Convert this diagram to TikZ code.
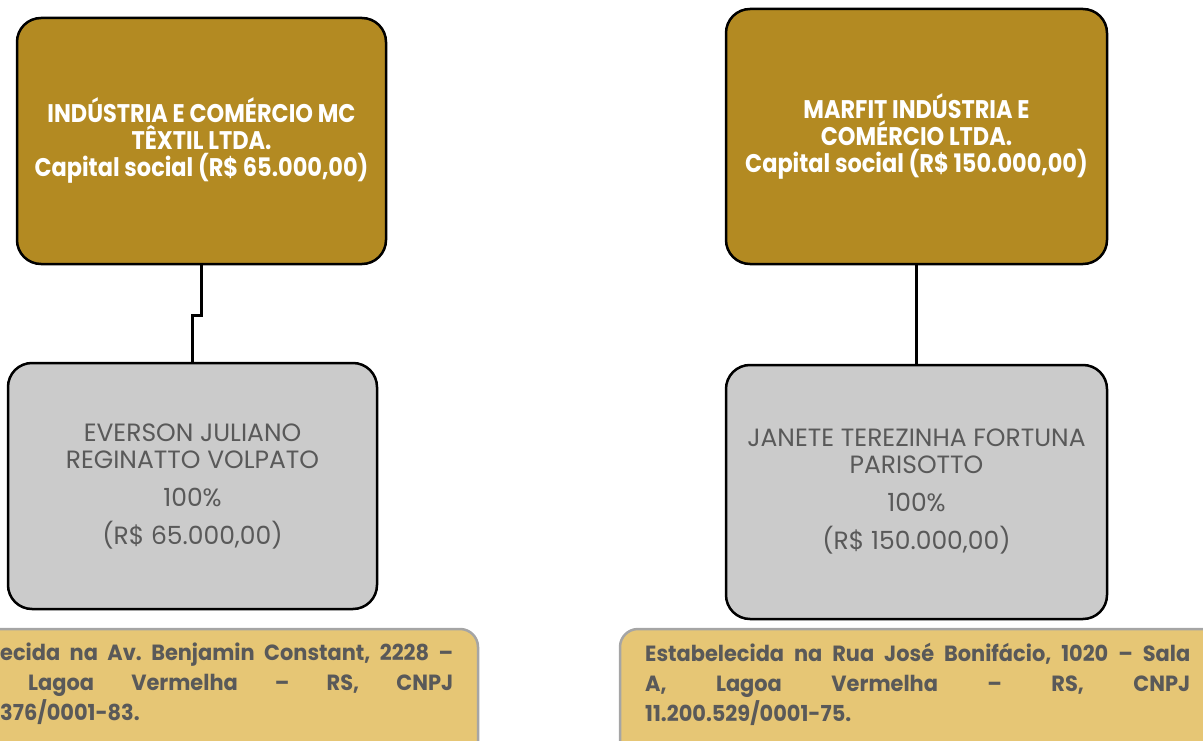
\documentclass[tikz,border=0pt]{standalone}
\usepackage{fontspec}
\setmainfont{Poppins}[FakeStretch=0.88]
\newfontfamily\grayfont{Poppins}
\newfontfamily\tanfont{Poppins}[FakeStretch=0.95]
\definecolor{gold}{HTML}{B38A22}
\definecolor{lgray}{HTML}{CBCBCB}
\definecolor{tan}{HTML}{E6C675}
\definecolor{txt}{HTML}{595959}
\definecolor{tanedge}{HTML}{A5A5A5}
\frenchspacing
\tikzset{
  goldbox/.style={draw=black, line width=2.5pt, fill=gold, rounded corners=24pt, align=center, text=white, font=\bfseries\fontsize{25.5}{27}\selectfont, inner sep=0pt},
  graybox/.style={draw=black, line width=2.5pt, fill=lgray, rounded corners=24pt, align=center, text=txt, font=\grayfont\fontsize{25}{27}\selectfont, inner sep=0pt},
  tanbox/.style={draw=tanedge, line width=2.5pt, fill=tan, rounded corners=18pt, inner sep=0pt},
  tantext/.style={text=txt, font=\tanfont\bfseries\fontsize{22}{30}\selectfont, inner sep=0pt, anchor=north west, align=left},
  link/.style={draw=black, line width=3.2pt}
}
\begin{document}
\begin{tikzpicture}[x=1pt,y=1pt]
\useasboundingbox (0,0) rectangle (1203,-741);
\clip (0,0) rectangle (1203,-741);
\node[goldbox, minimum width=369pt, minimum height=246pt] (g1) at (201.5,-141) {\bfseries INDÚSTRIA E COMÉRCIO MC\\ \bfseries TÊXTIL LTDA.\\ \bfseries Capital social (R\$ 65.000,00)\\[-20pt]\mbox{}};
\node[goldbox, minimum width=381pt, minimum height=255pt] (g2) at (916.5,-136.5) {\bfseries MARFIT INDÚSTRIA E\\ \bfseries COMÉRCIO LTDA.\\ \bfseries Capital social (R\$ 150.000,00)\\[-20pt]\mbox{}};
\node[graybox, minimum width=369pt, minimum height=246pt] (p1) at (192.5,-486) {EVERSON JULIANO\\ REGINATTO VOLPATO\\[11pt] 100\%\\[11pt] (R\$ 65.000,00)};
\node[graybox, minimum width=381pt, minimum height=254pt] (p2) at (916.5,-492) {JANETE TEREZINHA FORTUNA\\ PARISOTTO\\[11pt] 100\%\\[11pt] (R\$ 150.000,00)};
\draw[link] (g1.south) -- ++(0,-50) -| (p1.north);
\draw[link] (g2.south) -- (p2.north);
\node[tanbox, minimum width=520pt, minimum height=140pt] (t1) at (218,-699) {};
\node[tanbox, minimum width=620pt, minimum height=140pt] (t2) at (930,-699) {};
\node[tantext] (a1) at (0,-643) {\makebox[453pt][s]{ecida na Av. Benjamin Constant, 2228 –}\\ \hspace*{28pt}\makebox[425pt][s]{Lagoa Vermelha – RS, CNPJ}\\ 376/0001-83.};
\node[tantext] (a2) at (645,-643) {\makebox[545pt][s]{Estabelecida na Rua José Bonifácio, 1020 – Sala}\\ \makebox[545pt][s]{A, Lagoa Vermelha – RS, CNPJ}\\ 11.200.529/0001-75.};
\end{tikzpicture}
\end{document}
